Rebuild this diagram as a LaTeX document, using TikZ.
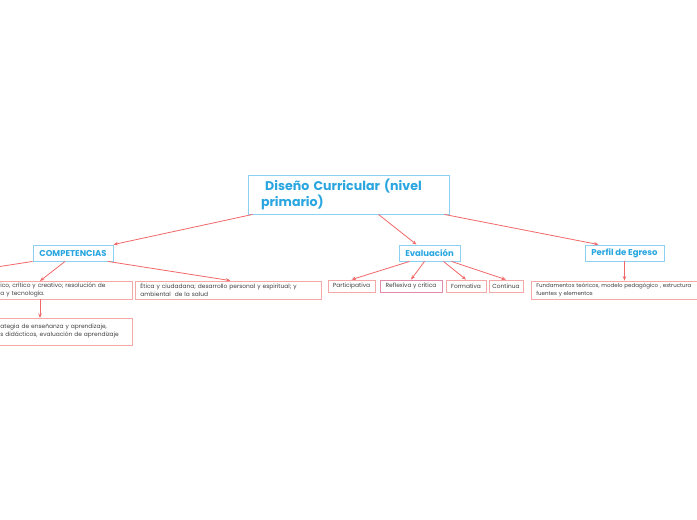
\documentclass[tikz,border=0pt]{standalone}
\usepackage{fontspec}
\setmainfont{Poppins}
\usetikzlibrary{arrows.meta}
\definecolor{MapBlue}{RGB}{41,166,224}
\definecolor{MapBlueLine}{RGB}{140,208,242}
\definecolor{MapRed}{RGB}{242,104,104}
\definecolor{MapPink}{RGB}{244,168,168}
\definecolor{MapRose}{RGB}{226,140,170}

\begin{document}
\begin{tikzpicture}[x=1pt, y=-1pt,
    every node/.style={inner sep=0pt},
    topic/.style={draw=MapBlueLine, line width=0.9pt, fill=white, text=MapBlue,
        font=\fontsize{8.5}{10}\selectfont\bfseries},
    leaf/.style={draw=MapPink, line width=0.8pt, fill=white, text=black!75,
        font=\fontsize{5.9}{8}\selectfont, align=left},
    link/.style={-{Stealth[length=4.5pt,width=3.5pt]}, MapRed, line width=0.8pt}]
  \useasboundingbox (0,0) rectangle (697,520);
  \clip (0,0) rectangle (697,520);
  \fill[white] (0,0) rectangle (697,520);

  % main idea
  \node[topic, minimum width=201pt, minimum height=39pt, text width=175pt, align=left,
        font=\fontsize{12.6}{16}\selectfont\bfseries] (main) at (348.5,194.5)
    {\ Diseño Curricular (nivel\\primario)};

  % first level
  \node[topic, minimum width=80pt, minimum height=16pt] (comp) at (73,253) {COMPETENCIAS};
  \node[topic, minimum width=61pt, minimum height=16pt] (eval) at (429.5,253) {Evaluación};
  \node[topic, minimum width=79pt, minimum height=16pt] (perfil) at (624.5,253) {Perfil de Egreso};
  \coordinate (offleft) at (-10,268);

  % competencias
  \node[leaf, anchor=west, minimum width=136pt, minimum height=18pt, text width=128pt,
        inner xsep=4pt] (logico) at (-4,290)
    {ico, crítico y creativo; resolución de\\a y tecnología.};
  \node[leaf, anchor=west, minimum width=136pt, minimum height=27pt, text width=128pt,
        inner xsep=4pt] (estrategia) at (-4,331.5)
    {ategia de enseñanza y aprendizaje,\\s didácticos, evaluación de aprendizaje};
  \node[leaf, anchor=west, minimum width=186pt, minimum height=18pt, text width=176pt,
        inner xsep=5pt] (etica) at (135,290)
    {Ética y ciudadana; desarrollo personal y espiritual; y\\ambiental\ \ de la salud};
  \coordinate (logtop) at (40,281);
  \coordinate (logbot) at (40,299);
  \coordinate (esttop) at (40,318);

  % evaluacion
  \node[leaf, minimum width=47pt, minimum height=12pt] (partic) at (351.5,286) {Participativa};
  \node[leaf, draw=MapRose, minimum width=62pt, minimum height=12pt] (reflex) at (411,286) {Reflexiva y crítica};
  \node[leaf, minimum width=40pt, minimum height=12pt] (format) at (466,286) {Formativa};
  \node[leaf, minimum width=34pt, minimum height=12pt] (contin) at (506,286) {Continua};

  % perfil de egreso
  \node[leaf, anchor=west, minimum width=200pt, minimum height=18pt, text width=190pt,
        inner xsep=5pt, font=\fontsize{5.5}{8}\selectfont] (fund) at (531,290)
    {Fundamentos teóricos,\ modelo pedagógico , estructura\\fuentes y elementos};

  \draw[link] ([xshift=5pt]main.south west) -- (comp.north east);
  \draw[link] ([xshift=30pt]main.south) -- ([xshift=-13pt]eval.north);
  \draw[link] ([xshift=-5pt]main.south east) -- ([xshift=-26pt]perfil.north);
  \draw[MapRed, line width=0.8pt] (comp.south west) -- (offleft);
  \draw[link] ([xshift=-8pt]comp.south) -- (logtop);
  \draw[link] ([xshift=35pt]comp.south) -- ([xshift=2pt]etica.north);
  \draw[link] (logbot) -- (esttop);
  \foreach \x/\y in {-20/partic,-5/reflex,14/format,22/contin}
    \draw[link] ([xshift=\x pt]eval.south) -- (\y.north);
  \draw[link] (perfil) -- (perfil.south |- fund.north);
\end{tikzpicture}
\end{document}
